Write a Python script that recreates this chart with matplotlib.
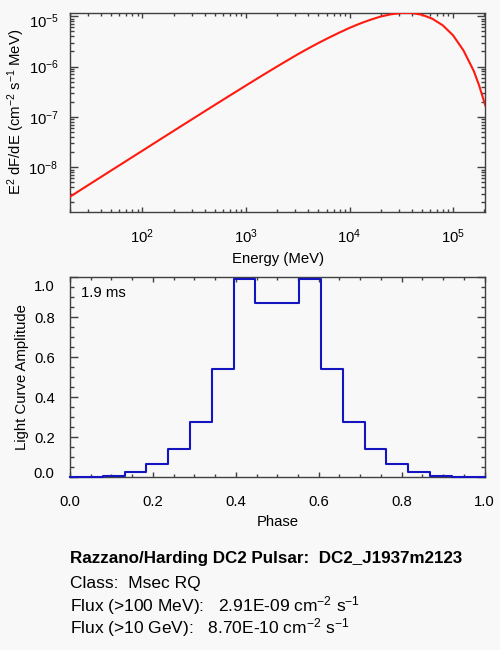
import numpy as np
import matplotlib
matplotlib.use('Agg')
import matplotlib.pyplot as plt
import matplotlib.transforms as mtransforms
from matplotlib.ticker import FixedLocator, NullFormatter, MultipleLocator, FuncFormatter

plt.rcParams['font.family'] = ['Liberation Sans', 'DejaVu Sans']
plt.rcParams['mathtext.fontset'] = 'custom'
plt.rcParams['mathtext.rm'] = 'Liberation Sans'
plt.rcParams['mathtext.it'] = 'Liberation Sans:italic'
plt.rcParams['mathtext.bf'] = 'Liberation Sans:bold'

# ---- spectrum: log10 E [MeV], log10 E^2 dF/dE ----
log_energy = [1.301, 1.4, 1.5, 1.6, 1.7, 1.8, 1.9, 2.0, 2.1, 2.2, 2.3, 2.4,
              2.5, 2.6, 2.7, 2.8, 2.9, 3.0, 3.1, 3.2, 3.3, 3.4, 3.5, 3.6,
              3.7, 3.8, 3.9, 4.0, 4.1, 4.2, 4.3, 4.4, 4.5, 4.6, 4.7, 4.8,
              4.9, 5.0, 5.1, 5.2, 5.25, 5.3, 5.31]
log_e2dfde = [-8.585, -8.455, -8.324, -8.193, -8.062, -7.932, -7.801, -7.671,
              -7.540, -7.409, -7.279, -7.149, -7.019, -6.889, -6.760, -6.631,
              -6.503, -6.375, -6.248, -6.122, -5.998, -5.876, -5.755, -5.640,
              -5.530, -5.425, -5.325, -5.230, -5.145, -5.070, -5.005, -4.960,
              -4.935, -4.935, -4.970, -5.050, -5.180, -5.380, -5.680, -6.090,
              -6.370, -6.700, -6.770]
energy_decades = [2, 3, 4, 5]
flux_decades = [-8, -7, -6, -5]

# ---- light curve ----
phase_bins = np.arange(20) / 19.0
amplitude = [0.0, 0.0, 0.005, 0.025, 0.065, 0.139, 0.274, 0.541, 0.993, 0.873,
             0.873, 0.993, 0.541, 0.274, 0.139, 0.065, 0.025, 0.005, 0.0, 0.0]

period_label = "1.9 ms"
info_lines = [
    "Razzano/Harding DC2 Pulsar:  DC2_J1937m2123",
    "Class:  Msec RQ",
    "Flux (>100 MeV):   2.91E-09 cm$^{-2}$ s$^{-1}$",
    "Flux (>10 GeV):   8.70E-10 cm$^{-2}$ s$^{-1}$",
]

energy_mev = 10.0 ** np.array(log_energy)
e2dfde = 10.0 ** np.array(log_e2dfde)

BG = '#f8f8f8'
AX = '#404040'
FS = 10.7

fig = plt.figure(figsize=(5.0, 6.5), dpi=100, facecolor=BG)

def style_axes(ax, xpad, ypad):
    ax.set_facecolor(BG)
    for s in ax.spines.values():
        s.set_color(AX)
        s.set_linewidth(1.0)
    ax.tick_params(direction='in', top=True, right=True, color=AX, width=1.0)
    ax.tick_params(which='minor', direction='in', top=True, right=True, color=AX, width=1.0)
    ax.tick_params(axis='x', which='major', length=3.4, pad=xpad, labelsize=FS)
    ax.tick_params(axis='x', which='minor', length=2.0)
    ax.tick_params(axis='y', which='major', length=5.8, pad=ypad, labelsize=FS)
    ax.tick_params(axis='y', which='minor', length=2.8)

def log_minors(decs):
    lo, hi = min(decs) - 2, max(decs) + 2
    return [m * 10.0 ** e for e in range(lo, hi) for m in range(2, 10)]

# ---- top: spectrum ----
ax1 = fig.add_axes([0.14, 0.6743, 0.83, 0.3062])
ax1.plot(energy_mev, e2dfde, color='#ff1a10', lw=1.5, zorder=3)
ax1.set_xscale('log')
ax1.set_yscale('log')
ax1.set_xlim(20, 2.03e5)
ax1.set_ylim(1.31e-9, 1.18e-5)
ax1.xaxis.set_major_locator(FixedLocator([10.0 ** d for d in energy_decades]))
ax1.yaxis.set_major_locator(FixedLocator([10.0 ** d for d in flux_decades]))
ax1.xaxis.set_minor_locator(FixedLocator(log_minors(energy_decades)))
ax1.yaxis.set_minor_locator(FixedLocator(log_minors(flux_decades)))
ax1.xaxis.set_minor_formatter(NullFormatter())
ax1.yaxis.set_minor_formatter(NullFormatter())
logfmt = FuncFormatter(lambda v, p: r'$\mathregular{10^{%d}}$' % int(round(np.log10(v))))
ax1.xaxis.set_major_formatter(logfmt)
ax1.yaxis.set_major_formatter(logfmt)
style_axes(ax1, 11.5, 8.2)
ax1.set_xlabel('Energy (MeV)', fontsize=FS, labelpad=4)
ax1.set_ylabel(r'E$^2$ dF/dE (cm$^{-2}$ s$^{-1}$ MeV)', fontsize=FS, labelpad=1.4)

# ---- bottom: light curve ----
ax2 = fig.add_axes([0.14, 0.2662, 0.829, 0.3072])
ax2.step(phase_bins, amplitude, where='mid', color='#1414c0', lw=1.5,
         zorder=3, clip_on=False)
ax2.set_xlim(0, 1)
ax2.set_ylim(0, 1)
ax2.xaxis.set_major_locator(MultipleLocator(0.2))
ax2.xaxis.set_minor_locator(MultipleLocator(0.05))
ax2.yaxis.set_major_locator(MultipleLocator(0.2))
ax2.yaxis.set_minor_locator(MultipleLocator(0.05))
ax2.xaxis.set_major_formatter(FuncFormatter(lambda v, p: '%.1f' % v))
ax2.yaxis.set_major_formatter(FuncFormatter(lambda v, p: '%.1f' % v))
style_axes(ax2, 13, 11)
ax2.set_xlabel('Phase', fontsize=FS, labelpad=4)
ax2.set_ylabel('Light Curve Amplitude', fontsize=FS, labelpad=3.6)
ax2.text(0.026, 0.923, period_label, transform=ax2.transAxes, fontsize=FS,
         va='center', ha='left')

# shift end labels inward like the original
fig.canvas.draw()
def shift_label(ax, value, dy_px):
    for t in ax.yaxis.get_major_ticks():
        loc = t.get_loc()
        same = abs(loc - value) < 1e-9 if value >= 1e-3 or value == 0 else \
            (loc > 0 and abs(loc / value - 1) < 1e-6)
        if same:
            off = mtransforms.ScaledTranslation(0, dy_px / 100.0, fig.dpi_scale_trans)
            t.label1.set_transform(t.label1.get_transform() + off)
shift_label(ax2, 1.0, -8)
shift_label(ax2, 0.0, 4.5)
shift_label(ax1, 1e-5, -3.5)

# ---- info text ----
ys = [0.1334, 0.0949, 0.0590, 0.0262]
sizes = [12.25, 12.5, 12.5, 12.5]
for i, (line, y) in enumerate(zip(info_lines, ys)):
    fig.text(0.14, y, line, fontsize=sizes[i], va='baseline', ha='left',
             fontweight='bold' if i == 0 else 'normal')

fig.savefig('out.png', dpi=100, facecolor=BG)
